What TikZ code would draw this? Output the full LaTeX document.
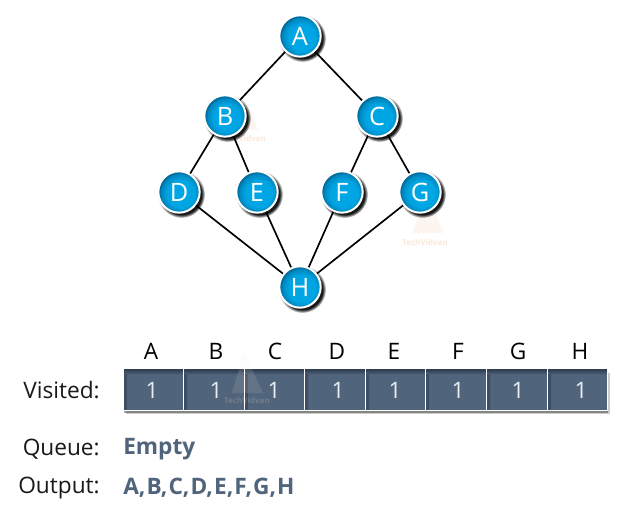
\documentclass[tikz,border=0pt]{standalone}
\usepackage{fontspec}
\setmainfont{Open Sans}
\usepackage{tikz}
\usetikzlibrary{
  positioning,
  shadows,
  fadings
}
\definecolor{nodeBlue}{RGB}{0, 166, 228}
\definecolor{nodeBlueDark}{RGB}{0, 78, 122}
\definecolor{cellSlate}{RGB}{80, 100, 124}
\definecolor{cellSlateDark}{RGB}{48, 62, 82}
\definecolor{markOrange}{RGB}{252, 232, 216}
\pgfdeclareradialshading{nodeball}{\pgfpoint{3bp}{-3bp}}{
  color(0bp)=(nodeBlue); color(16bp)=(nodeBlue); color(23bp)=(nodeBlue!65!nodeBlueDark); color(28bp)=(nodeBlueDark); color(50bp)=(nodeBlueDark)
}
\pgfdeclareverticalshading{cellfade}{100bp}{
  color(0bp)=(cellSlate); color(68bp)=(cellSlate); color(74bp)=(cellSlateDark); color(100bp)=(cellSlateDark)
}
\begin{document}
\begin{tikzpicture}[
    x=0.75pt, y=-0.75pt,
    font=\fontsize{17pt}{20pt}\selectfont,
    vertex/.style={circle, draw=white, line width=1.5pt, shading=nodeball, minimum size=31pt, inner sep=0pt, text=white, font=\fontsize{19pt}{20pt}\selectfont,
        circular drop shadow={shadow xshift=1.6pt, shadow yshift=-1.6pt, shadow scale=1.14, fill=black, opacity=0.9}},
    link/.style={draw=black, line width=1.25pt},
    cell/.style={rectangle, draw=white, line width=0.75pt, shading=cellfade, minimum height=31pt, inner sep=0pt,
        drop shadow={shadow xshift=2pt, shadow yshift=-3pt, fill=black, opacity=0.2},
        drop shadow={shadow xshift=1pt, shadow yshift=-2pt, fill=black, opacity=0.35},
        path picture={\shade[left color=cellSlateDark!60!cellSlate, right color=cellSlate] ([yshift=-4pt]path picture bounding box.north west) rectangle ([xshift=3pt]path picture bounding box.south west);}},
    digit/.style={text=white!88!cellSlate},
    head/.style={text=black},
    rowlabel/.style={anchor=east, inner sep=0pt, text=black!90},
    result/.style={anchor=west, inner sep=0pt, text=cellSlate, font=\fontsize{17pt}{20pt}\selectfont\bfseries},
    faint/.style={text=markOrange, font=\fontsize{6pt}{7pt}\selectfont\bfseries},
    faintshape/.style={fill=markOrange, fill opacity=0.4}
]

    \useasboundingbox (0,0) rectangle (630,530);
    \fill[white] (0,0) rectangle (630,530);

    % faint marks behind the picture
    \fill[faintshape] (243,95) -- (258,130) -- (228,130) -- cycle;
    \fill[faintshape] (428,193) -- (443,233) -- (412,233) -- cycle;
    \node[faint] (markOne) at (243,139) {TechVidvan};
    \node[faint] (markTwo) at (425,243) {TechVidvan};

    % graph
    \node[vertex] (A) at (300,36) {A};
    \node[vertex] (B) at (225,116) {B};
    \node[vertex] (C) at (377,116) {C};
    \node[vertex] (D) at (179,192) {D};
    \node[vertex] (E) at (257,192) {E};
    \node[vertex] (F) at (342,192) {F};
    \node[vertex] (G) at (420,192) {G};
    \node[vertex] (H) at (300,287) {H};

    \foreach \from/\to in {A/B, A/C, B/D, B/E, C/F, C/G, D/H, E/H, F/H, G/H}
        \draw[link] (\from) -- (\to);

    % visited row
    \foreach \name/\xa/\xb/\xm in {A/123/183/151, B/183/244/216, C/244/304/275, D/304/365/337, E/365/425/394, F/425/486/458, G/486/547/518, H/547/607/580} {
        \pgfmathsetmacro{\xc}{(\xa+\xb)/2}
        \node[cell, minimum width=(\xb-\xa)*0.75pt] (cell\name) at (\xc,389.5) {};
        \node[head] (head\name) at (\xm,351) {\name};
    }

    % mark over the cells, under the digits
    \fill[faintshape, fill opacity=0.12] (244,352) -- (263,393) -- (232,393) -- cycle;
    \node[faint, opacity=0.2] (markThree) at (247,400) {TechVidvan};

    \foreach \name/\xm in {A/152, B/216, C/274, D/338, E/395, F/458, G/518, H/581}
        \node[digit] (digit\name) at (\xm,390) {1};

    \node[rowlabel] (visited) at (100,390) {Visited:};
    \node[rowlabel] (queue) at (100,449) {Queue:};
    \node[rowlabel] (output) at (100,488) {Output:};
    \node[result] (queueText) at (123,449) {Empty};
    \node[result] (outputText) at (123,488) {A,\kern.8pt B,\kern.8pt C,\kern.8pt D,\kern.8pt E,\kern.8pt F,\kern.8pt G,\kern.8pt H};

\end{tikzpicture}
\end{document}
